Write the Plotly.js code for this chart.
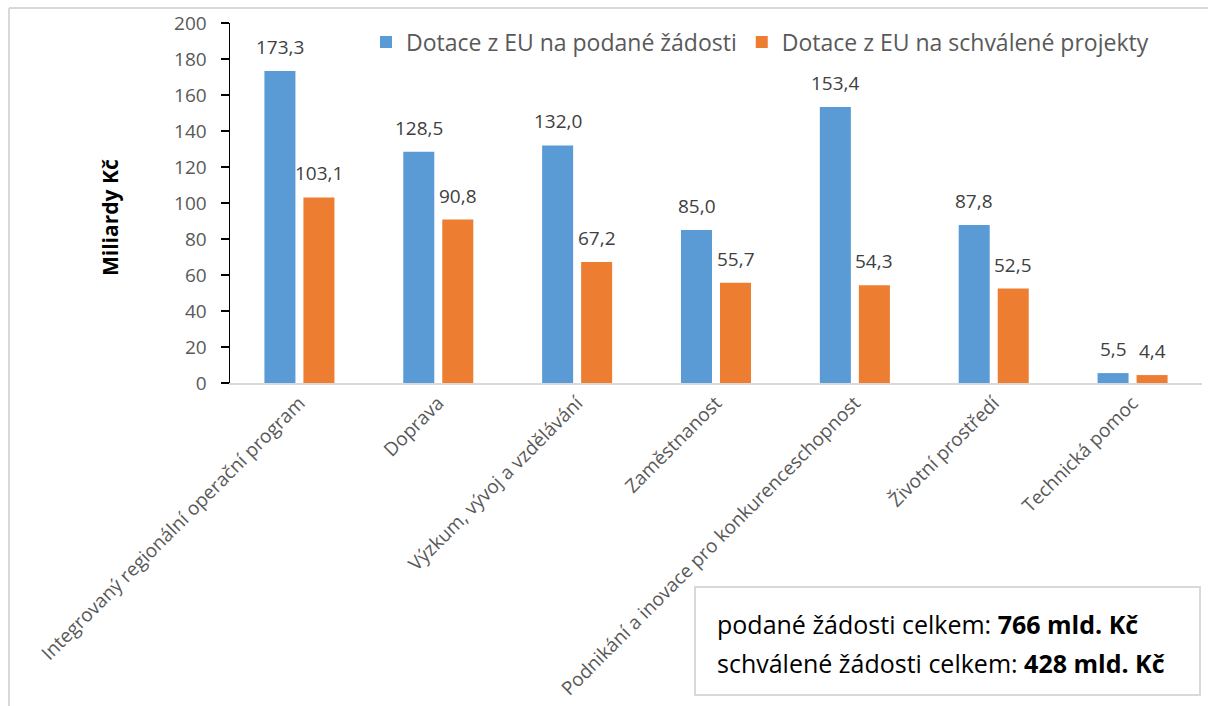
<!DOCTYPE html>
<html><head><meta charset="utf-8">
<script src="https://cdn.plot.ly/plotly-3.0.1.min.js"></script>
<style>html,body{margin:0;padding:0;background:#fff}#chart{width:1208px;height:706px}</style>
</head><body><div id="chart"></div>
<script>
const categories = ["Integrovaný regionální operační program","Doprava","Výzkum, vývoj a vzdělávání","Zaměstnanost","Podnikání a inovace pro konkurenceschopnost","Životní prostředí","Technická pomoc"];
const podane = [173.3,128.5,132.0,85.0,153.4,87.8,5.5];
const schvalene = [103.1,90.8,67.2,55.7,54.3,52.5,4.4];
const seriesNames = ["Dotace z EU na podané žádosti","Dotace z EU na schválené projekty"];
const yTitle = "Miliardy Kč";
const boxLines = ["podané žádosti celkem: <b>766 mld. Kč</b>","schválené žádosti celkem: <b>428 mld. Kč</b>"];

const W=1208,H=706,L=230,R=6,T=23,B=323;
const pw=W-L-R, ph=H-T-B;
const px=x=>(x-L)/pw, py=y=>(H-B-y)/ph;
const FONT="'Open Sans', Lato, sans-serif";

const fmt=v=>v.toFixed(1).replace('.',',');
const ann=[];
const lblFont={family:FONT,size:19,color:'#404040'};
podane.forEach((v,i)=>ann.push({x:categories[i],y:v,xref:'x',yref:'y',text:fmt(v),showarrow:false,yanchor:'bottom',yshift:9,xshift:-19.5,font:lblFont}));
schvalene.forEach((v,i)=>ann.push({x:categories[i],y:v,xref:'x',yref:'y',text:fmt(v),showarrow:false,yanchor:'bottom',yshift:9,xshift:19.5,font:lblFont}));
ann.push({xref:'paper',yref:'paper',x:px(110),y:py(218),text:'<b>'+yTitle+'</b>',textangle:-90,showarrow:false,xanchor:'center',yanchor:'middle',font:{family:FONT,size:21,color:'#000'}});
ann.push({xref:'paper',yref:'paper',x:px(715),y:py(624),text:boxLines[0],showarrow:false,xanchor:'left',yanchor:'middle',font:{family:FONT,size:25,color:'#000'}});
ann.push({xref:'paper',yref:'paper',x:px(715),y:py(663),text:boxLines[1],showarrow:false,xanchor:'left',yanchor:'middle',font:{family:FONT,size:25,color:'#000'}});

const shapes=[
 {type:'line',xref:'paper',yref:'paper',x0:px(9),x1:px(9),y0:py(8),y1:py(720),line:{color:'#d9d9d9',width:2}},
 {type:'line',xref:'paper',yref:'paper',x0:px(9),x1:px(1220),y0:py(8),y1:py(8),line:{color:'#d9d9d9',width:2}},
 {type:'rect',xref:'paper',yref:'paper',x0:px(695),x1:px(1200),y0:py(587),y1:py(695),line:{color:'#d9d9d9',width:2},fillcolor:'#fff'}
];

const traces=[
 {type:'bar',name:seriesNames[0],x:categories,y:podane,marker:{color:'#5B9BD5'},hoverinfo:'x+y'},
 {type:'bar',name:seriesNames[1],x:categories,y:schvalene,marker:{color:'#ED7D31'},hoverinfo:'x+y'}
];
const layout={
 width:W,height:H,margin:{l:L,r:R,t:T,b:B},
 paper_bgcolor:'#fff',plot_bgcolor:'#fff',
 barmode:'group',bargap:0.438,bargroupgap:0.205,
 font:{family:FONT,color:'#595959'},
 showlegend:true,
 legend:{orientation:'h',x:px(366),y:py(42),xanchor:'left',yanchor:'middle',font:{family:FONT,size:23,color:'#595959'},itemwidth:30,bgcolor:'rgba(0,0,0,0)'},
 xaxis:{type:'category',tickangle:-45,showline:true,linecolor:'#d9d9d9',linewidth:1.5,ticks:'',tickfont:{family:FONT,size:19,color:'#595959'},showgrid:false,zeroline:false,automargin:false},
 yaxis:{range:[0,200],dtick:20,showline:true,linecolor:'#000',linewidth:1.5,ticks:'outside',ticklen:8,tickcolor:'#000',tickwidth:1.5,ticklabelstandoff:10,tickfont:{family:FONT,size:19,color:'#595959'},showgrid:false,zeroline:false,automargin:false},
 annotations:ann,shapes:shapes
};
Plotly.newPlot('chart',traces,layout,{displayModeBar:false,staticPlot:true});
</script></body></html>
